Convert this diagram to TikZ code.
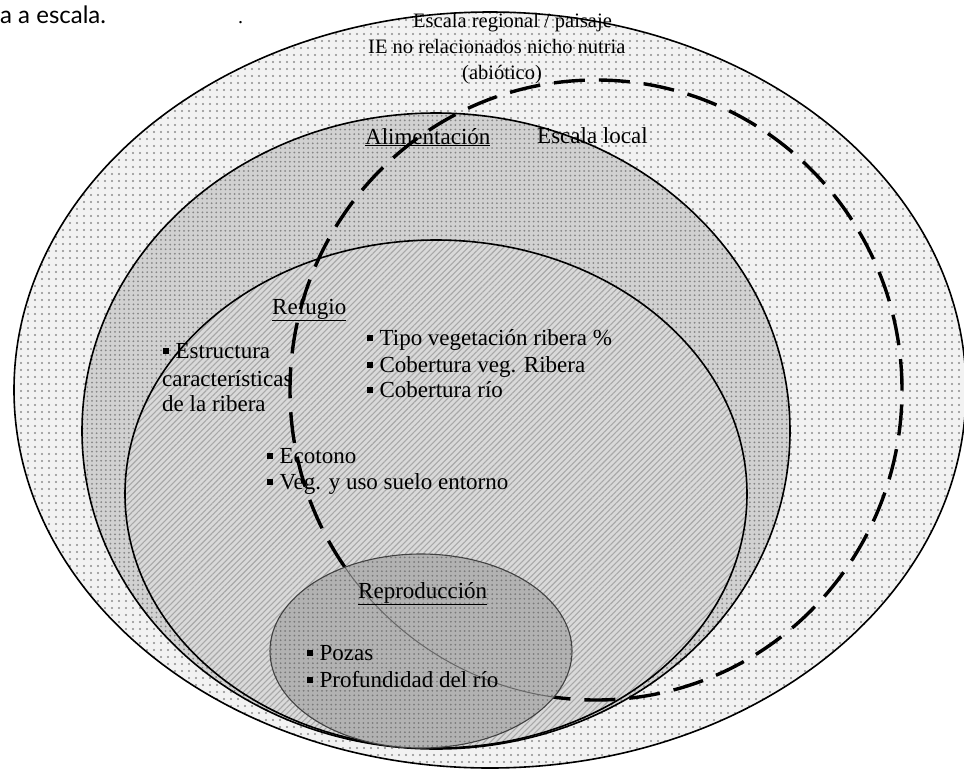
\documentclass[tikz,border=0pt]{standalone}
\usepackage{fontspec}
\setmainfont{Liberation Serif}
\newfontfamily\capfont{Lato}
\usetikzlibrary{patterns.meta}

% small square bullet
\newcommand{\sqb}{\rule[0.16em]{0.26em}{0.26em}\hspace{0.28em}}

\tikzset{
  ring/.style={line width=1.6pt, draw=black},
  thinring/.style={line width=1.1pt, draw=black!75},
  localring/.style={line width=3.4pt, draw=black, dash pattern=on 31pt off 14pt},
  body/.style={anchor=base west, inner sep=0pt, font=\fontsize{23}{26}\selectfont},
  toptxt/.style={anchor=base west, inner sep=0pt, font=\fontsize{20.5}{26}\selectfont},
}

\begin{document}
\begin{tikzpicture}[x=1pt,y=-1pt]
\useasboundingbox (0,0) rectangle (964,769);
\fill[white] (0,0) rectangle (964,769);

% regional / landscape scale: light dotted ring
\fill[black!5] (490,390) ellipse [x radius=476pt, y radius=378pt];
\path[pattern={Dots[distance=7pt, radius=1.1pt]}, pattern color=black!45]
  (490,390) ellipse [x radius=476pt, y radius=378pt];

% feeding
\fill[black!18] (436,431) ellipse [x radius=354pt, y radius=318pt];
\path[pattern={Dots[distance=4.6pt, radius=1pt]}, pattern color=black!48]
  (436,431) ellipse [x radius=354pt, y radius=318pt];

% refuge
\fill[black!15] (436,494) ellipse [x radius=311pt, y radius=254pt];
\path[pattern={Lines[angle=45, distance=4.2pt, line width=1.1pt]}, pattern color=black!34]
  (436,494) ellipse [x radius=311pt, y radius=254pt];

% outlines
\draw[ring] (490,390) ellipse [x radius=476pt, y radius=378pt];
\draw[ring] (436,431) ellipse [x radius=354pt, y radius=318pt];
\draw[ring] (436,494) ellipse [x radius=311pt, y radius=254pt];

% local scale
\draw[localring] (596,390) ellipse [x radius=306pt, y radius=310pt];

% reproduction
\fill[black!30] (421,651) ellipse [x radius=151pt, y radius=97pt];
\path[pattern={Dots[distance=4.6pt, radius=1pt]}, pattern color=black!52]
  (421,651) ellipse [x radius=151pt, y radius=97pt];
\begin{scope}
  \clip (421,651) ellipse [x radius=151pt, y radius=97pt];
  \draw[line width=1pt, black!60] (596,390) ellipse [x radius=306pt, y radius=310pt];
\end{scope}
\draw[thinring] (421,651) ellipse [x radius=151pt, y radius=97pt];

% texts
\node[anchor=base west, inner sep=0pt, font=\capfont\fontsize{24}{28}\selectfont] (cap) at (0,23) {a a escala.};
\node[anchor=base west, inner sep=0pt, font=\fontsize{20}{24}\selectfont] (dot) at (238,23) {.};

\node[toptxt] (reg1) at (413,27) {Escala regional / paisaje};
\node[toptxt] (reg2) at (368,53) {IE no relacionados nicho nutria};
\node[toptxt] (reg3) at (462,79) {(abiótico)};

\node[body] (alim) at (365,144) {\underline{Alimentación}};
\node[body] (local) at (537,143) {Escala local};

\node[body] (refu) at (272,314) {\underline{Refugio}};
\node[body] (t1) at (367,345) {\sqb Tipo vegetación ribera \%};
\node[body] (t2) at (367,372) {\sqb Cobertura veg. Ribera};
\node[body] (t3) at (367,397) {\sqb Cobertura río};

\node[body] (e1) at (163,358) {\sqb Estructura};
\node[body] (e2) at (162,386) {características};
\node[body] (e3) at (162,411) {de la ribera};

\node[body] (eco) at (267,463) {\sqb Ecotono};
\node[body] (veg) at (267,489) {\sqb Veg. y uso suelo entorno};

\node[body] (repro) at (358,598) {\underline{Reproducción}};
\node[body] (pozas) at (307,660) {\sqb Pozas};
\node[body] (prof) at (307,687) {\sqb Profundidad del río};
\end{tikzpicture}
\end{document}
